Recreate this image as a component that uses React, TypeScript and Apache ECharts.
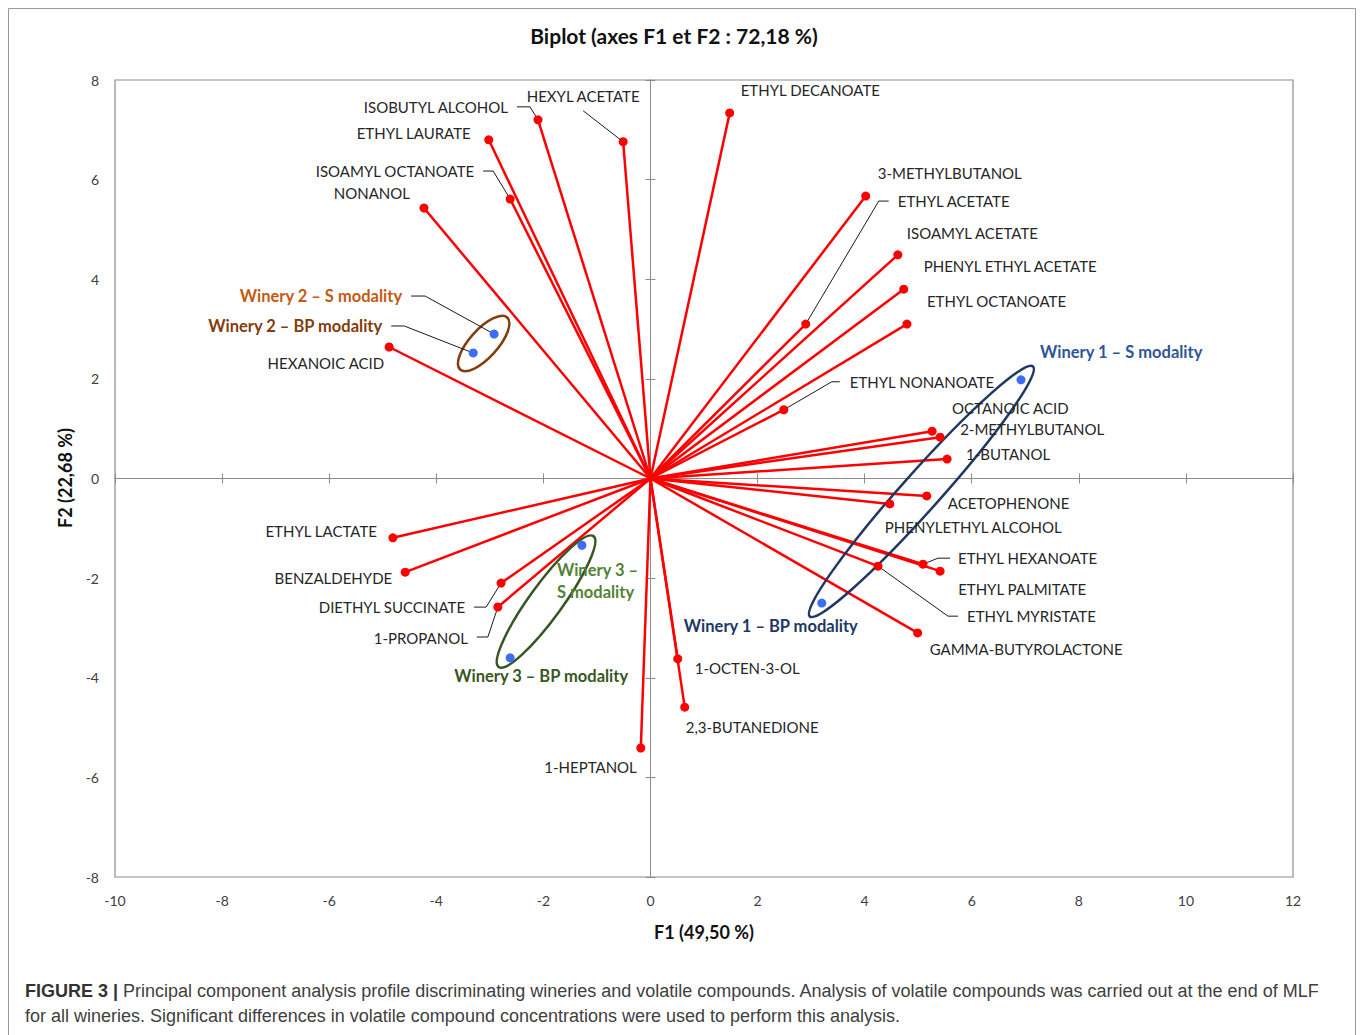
import React, { useEffect, useRef } from "react";
import * as echarts from "echarts";

// ---------- data ----------
const variableNames = [
  "HEXYL ACETATE", "ISOBUTYL ALCOHOL", "ETHYL LAURATE", "ISOAMYL OCTANOATE", "NONANOL",
  "ETHYL DECANOATE", "3-METHYLBUTANOL", "ETHYL ACETATE", "ISOAMYL ACETATE", "PHENYL ETHYL ACETATE",
  "ETHYL OCTANOATE", "ETHYL NONANOATE", "OCTANOIC ACID", "2-METHYLBUTANOL", "1-BUTANOL",
  "ACETOPHENONE", "PHENYLETHYL ALCOHOL", "ETHYL HEXANOATE", "ETHYL PALMITATE", "ETHYL MYRISTATE",
  "GAMMA-BUTYROLACTONE", "1-OCTEN-3-OL", "2,3-BUTANEDIONE", "1-HEPTANOL", "1-PROPANOL",
  "DIETHYL SUCCINATE", "BENZALDEHYDE", "ETHYL LACTATE", "HEXANOIC ACID",
];
const variableF1 = [
  -0.51, -2.1, -3.02, -2.62, -4.23,
  1.48, 4.02, 2.9, 4.62, 4.73,
  4.79, 2.49, 5.26, 5.41, 5.54,
  5.16, 4.47, 5.09, 5.41, 4.25,
  4.99, 0.51, 0.64, -0.18, -2.85,
  -2.79, -4.58, -4.81, -4.88,
];
const variableF2 = [
  6.76, 7.2, 6.8, 5.61, 5.43,
  7.34, 5.67, 3.1, 4.49, 3.8,
  3.1, 1.38, 0.95, 0.83, 0.39,
  -0.35, -0.51, -1.72, -1.86, -1.76,
  -3.1, -3.62, -4.59, -5.41, -2.58,
  -2.1, -1.88, -1.19, 2.64,
];
const observationNames = [
  "Winery 2 – S modality", "Winery 2 – BP modality",
  "Winery 1 – S modality", "Winery 1 – BP modality",
  "Winery 3 –\nS modality", "Winery 3 – BP modality",
];
const observationF1 = [-2.92, -3.31, 6.92, 3.2, -1.28, -2.62];
const observationF2 = [2.9, 2.52, 1.98, -2.5, -1.34, -3.6];
// pairs of observations enclosed by an ellipse (indices into observation arrays)
const wineryGroups = [[1, 0], [3, 2], [5, 4]];

const xMin = -10, xMax = 12, yMin = -8, yMax = 8, tickStep = 2;
const titleText = "Biplot (axes F1 et F2 : 72,18 %)";
const xName = "F1 (49,50 %)";
const yName = "F2 (22,68 %)";
const captionBold = "FIGURE 3 | ";
const captionLine1 = "Principal component analysis profile discriminating wineries and volatile compounds. Analysis of volatile compounds was carried out at the end of MLF";
const captionLine2 = "for all wineries. Significant differences in volatile compound concentrations were used to perform this analysis.";

// ---------- label layout (pixel offsets from the point) ----------
type Lay = { dx: number; dy: number; align: string; leader?: number[][]; color?: string; bold?: boolean };
const variableLayout: Lay[] = [
  { dx: -40, dy: -46, align: "center", leader: [[-40, -31]] },
  { dx: -30, dy: -13, align: "right", leader: [[-21, -13], [-8, -13]] },
  { dx: -18, dy: -7, align: "right" },
  { dx: -36, dy: -28, align: "right", leader: [[-27, -28], [-17, -28]] },
  { dx: -14, dy: -15, align: "right" },
  { dx: 11, dy: -23, align: "left" },
  { dx: 12, dy: -23, align: "left" },
  { dx: 92, dy: -123, align: "left", leader: [[83, -123], [73, -123]] },
  { dx: 9, dy: -22, align: "left" },
  { dx: 20, dy: -23, align: "left" },
  { dx: 20, dy: -23, align: "left" },
  { dx: 66, dy: -28, align: "left", leader: [[56, -28], [48, -28]] },
  { dx: 20, dy: -23, align: "left" },
  { dx: 20, dy: -8, align: "left" },
  { dx: 19, dy: -5, align: "left" },
  { dx: 21, dy: 7, align: "left" },
  { dx: -5, dy: 23, align: "left" },
  { dx: 35, dy: -6, align: "left", leader: [[27, -6], [15, -6]] },
  { dx: 18, dy: 18, align: "left" },
  { dx: 89, dy: 50, align: "left", leader: [[80, 50], [70, 50]] },
  { dx: 12, dy: 16, align: "left" },
  { dx: 17, dy: 9, align: "left" },
  { dx: 1, dy: 20, align: "left" },
  { dx: -4, dy: 19, align: "right" },
  { dx: -30, dy: 31, align: "right", leader: [[-21, 30], [-10, 30]] },
  { dx: -36, dy: 24, align: "right", leader: [[-27, 24], [-15, 24]] },
  { dx: -13, dy: 6, align: "right" },
  { dx: -16, dy: -7, align: "right" },
  { dx: -5, dy: 16, align: "right" },
];
const observationLayout: Lay[] = [
  { dx: -92, dy: -38, align: "right", leader: [[-83, -38], [-69, -38]], color: "#C55A11", bold: true },
  { dx: -91, dy: -27, align: "right", leader: [[-82, -27], [-69, -27]], color: "#843C0C", bold: true },
  { dx: 19, dy: -28, align: "left", color: "#2F5597", bold: true },
  { dx: -51, dy: 23, align: "center", color: "#203864", bold: true },
  { dx: -25, dy: 36, align: "left", color: "#548235", bold: true },
  { dx: 31, dy: 18, align: "center", color: "#385723", bold: true },
];
const ellipseStyles = [
  { color: "#843C0C", pad: 21, ry: 14, tilt: 0.1 },
  { color: "#203864", pad: 18, ry: 19, tilt: 0 },
  { color: "#375623", pad: 14, ry: 16.5, tilt: -0.06 },
];

const FONT = "Lato, 'Open Sans', sans-serif";
const CAPTION_FONT = "'Liberation Sans', Arial, sans-serif";
const AXIS_GRAY = "#8c8c8c";

function buildOption() {
  const labelRows: any[] = [];
  const labelInfo: { text: string; lay: Lay }[] = [];
  variableNames.forEach((n, i) => {
    labelRows.push([variableF1[i], variableF2[i]]);
    labelInfo.push({ text: n, lay: variableLayout[i] });
  });
  observationNames.forEach((n, i) => {
    labelRows.push([observationF1[i], observationF2[i]]);
    labelInfo.push({ text: n, lay: observationLayout[i] });
  });

  const groupRows = wineryGroups.map(([a, b]) => [
    observationF1[a], observationF2[a], observationF1[b], observationF2[b],
  ]);

  const valueAxis = (extra: any, min: number, max: number) => ({
    type: "value",
    min,
    max,
    interval: tickStep,
    splitLine: { show: false },
    ...extra,
  });
  const labelAxis = (pos: string, min: number, max: number) =>
    valueAxis(
      {
        position: pos,
        axisLine: { show: false, onZero: false },
        axisTick: { show: false },
        axisLabel: { margin: 16, color: "#404040", fontSize: 14, fontFamily: FONT },
      },
      min,
      max
    );
  const zeroAxis = (pos: string, min: number, max: number) =>
    valueAxis(
      {
        position: pos,
        axisLine: { show: true, onZero: true, onZeroAxisIndex: 0, lineStyle: { color: AXIS_GRAY, width: 1 } },
        axisTick: { show: true, length: 5, lineStyle: { color: AXIS_GRAY, width: 1 } },
        axisLabel: { show: false },
      },
      min,
      max
    );

  return {
    animation: false,
    backgroundColor: "#ffffff",
    grid: {
      left: 115,
      right: 67,
      top: 80,
      bottom: 158,
      show: true,
      borderColor: AXIS_GRAY,
      borderWidth: 1.2,
      backgroundColor: "transparent",
    },
    xAxis: [
      labelAxis("bottom", xMin, xMax),
      zeroAxis("bottom", xMin, xMax),
      zeroAxis("top", xMin, xMax),
    ],
    yAxis: [
      labelAxis("left", yMin, yMax),
      zeroAxis("left", yMin, yMax),
      zeroAxis("right", yMin, yMax),
    ],
    graphic: [
      {
        type: "rect",
        silent: true,
        z: -10,
        shape: { x: 8.5, y: 8.5, width: 1347, height: 1040 },
        style: { fill: "none", stroke: "#9a9a9a", lineWidth: 1 },
      },
      {
        type: "text",
        x: 674,
        y: 35,
        style: { text: titleText, fill: "#111111", fontFamily: FONT, fontWeight: "bold", fontSize: 21, align: "center", verticalAlign: "middle" },
      },
      {
        type: "text",
        x: 704,
        y: 932,
        style: { text: xName, fill: "#111111", fontFamily: FONT, fontWeight: "bold", fontSize: 18, align: "center", verticalAlign: "middle" },
      },
      {
        type: "text",
        x: 65,
        y: 478,
        rotation: Math.PI / 2,
        style: { text: yName, fill: "#111111", fontFamily: FONT, fontWeight: "bold", fontSize: 18, align: "center", verticalAlign: "middle" },
      },
      {
        type: "text",
        x: 25,
        y: 991,
        style: {
          text: "{b|" + captionBold + "}{n|" + captionLine1 + "}",
          verticalAlign: "middle",
          rich: {
            b: { fontFamily: CAPTION_FONT, fontWeight: "bold", fontSize: 18, fill: "#333333", color: "#333333" },
            n: { fontFamily: CAPTION_FONT, fontSize: 18, fill: "#404040", color: "#404040" },
          },
        },
      },
      {
        type: "text",
        x: 25,
        y: 1016,
        style: {
          text: captionLine2,
          fill: "#404040",
          fontFamily: CAPTION_FONT,
          fontSize: 18,
          verticalAlign: "middle",
        },
      },
    ],
    series: [
      {
        type: "lines",
        coordinateSystem: "cartesian2d",
        z: 2,
        silent: true,
        lineStyle: { color: "#ff0000", width: 2.5, opacity: 1, curveness: 0 },
        data: variableNames.map((n, i) => ({ name: n, coords: [[0, 0], [variableF1[i], variableF2[i]]] })),
      },
      {
        type: "custom",
        coordinateSystem: "cartesian2d",
        z: 3,
        silent: true,
        data: groupRows,
        renderItem: (params: any, api: any) => {
          const st = ellipseStyles[params.dataIndex];
          const p1 = api.coord([api.value(0), api.value(1)]);
          const p2 = api.coord([api.value(2), api.value(3)]);
          const mx = (p1[0] + p2[0]) / 2;
          const my = (p1[1] + p2[1]) / 2;
          const dx = p2[0] - p1[0];
          const dy = p2[1] - p1[1];
          const dist = Math.sqrt(dx * dx + dy * dy);
          const ang = -Math.atan2(dy, dx) + st.tilt;
          return {
            type: "ellipse",
            x: mx,
            y: my,
            rotation: ang,
            shape: { cx: 0, cy: 0, rx: dist / 2 + st.pad, ry: st.ry },
            style: { fill: "none", stroke: st.color, lineWidth: 2.5 },
          };
        },
      },
      {
        type: "custom",
        coordinateSystem: "cartesian2d",
        z: 4,
        silent: true,
        data: labelRows,
        renderItem: (params: any, api: any) => {
          const info = labelInfo[params.dataIndex];
          const lay = info.lay;
          const p = api.coord([api.value(0), api.value(1)]);
          const children: any[] = [];
          if (lay.leader) {
            const pts = lay.leader.map((o) => [p[0] + o[0], p[1] + o[1]]);
            pts.push([p[0], p[1]]);
            children.push({
              type: "polyline",
              shape: { points: pts },
              style: { fill: "none", stroke: "#1a1a1a", lineWidth: 1 },
            });
          }
          children.push({
            type: "text",
            x: p[0] + lay.dx,
            y: p[1] + lay.dy,
            style: {
              text: info.text,
              fill: lay.color || "#262626",
              fontFamily: FONT,
              fontSize: lay.bold ? 16.5 : 15,
              fontWeight: lay.bold ? "bold" : "normal",
              align: lay.align,
              verticalAlign: "middle",
              lineHeight: 22,
            },
          });
          return { type: "group", children };
        },
      },
      {
        type: "scatter",
        z: 5,
        silent: true,
        symbolSize: 9,
        itemStyle: { color: "#ff0000", opacity: 1 },
        data: variableNames.map((n, i) => ({ name: n, value: [variableF1[i], variableF2[i]] })),
      },
      {
        type: "scatter",
        z: 5,
        silent: true,
        symbolSize: 9,
        itemStyle: { color: "#3d6cf5", opacity: 1 },
        data: observationNames.map((n, i) => ({ name: n, value: [observationF1[i], observationF2[i]] })),
      },
    ],
  };
}

export default function App() {
  const ref = useRef<HTMLDivElement>(null);
  useEffect(() => {
    if (!ref.current) return;
    const chart = echarts.init(ref.current, null, { renderer: "svg" });
    chart.setOption(buildOption() as any);
    return () => chart.dispose();
  }, []);
  return (
    <div
      ref={ref}
      style={{ position: "fixed", left: 0, top: 0, width: 1360, height: 1035, background: "#ffffff" }}
    />
  );
}
